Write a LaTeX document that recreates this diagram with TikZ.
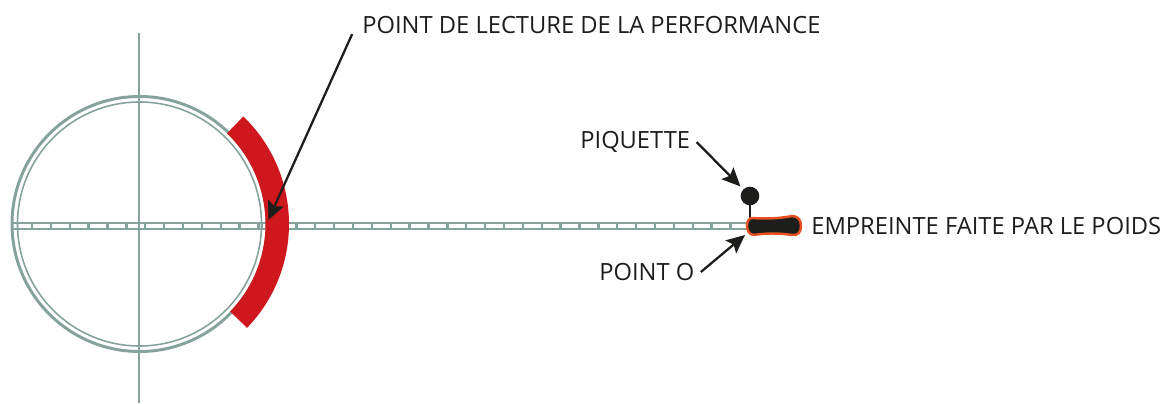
\documentclass[tikz,border=0pt]{standalone}
\usepackage{fontspec}
\setmainfont{Open Sans}
\usepackage{tikz}
\usetikzlibrary{arrows.meta,calc}
\definecolor{piste}{RGB}{134,162,156}
\definecolor{rouge}{RGB}{207,24,29}
\definecolor{encre}{RGB}{29,29,27}
\definecolor{orange}{RGB}{232,80,31}
\tikzset{
  lbl/.style={anchor=west, inner sep=0pt, text=encre, font=\fontsize{13.5}{16}\selectfont},
  fleche/.style={-{Stealth[length=10.5pt, width=9.5pt, inset=2pt]}, line width=1.3pt, draw=encre},
  axe/.style={draw=piste, line width=1.7pt},
  mesure/.style={draw=piste, line width=1.35pt},
  pic/.style={circle, fill=encre, inner sep=0pt, minimum size=10.6pt, outer sep=2.4pt}
}
\begin{document}
\begin{tikzpicture}[x=0.02cm, y=0.02cm]
  \useasboundingbox (0,0) rectangle (1161,403);
  \coordinate (centre) at (139.5,179);
  \draw[axe] (139,0) -- (139,370);
  \draw[axe] (centre) circle (127.5);
  \draw[piste, line width=0.9pt] (centre) circle (122);
  % double ligne et graduations
  \draw[mesure] (12,179.7) -- (748,179.7);
  \draw[mesure] (12,173.7) -- (748,173.7);
  \foreach \k in {0,...,37} \draw[mesure] ({32+18.88*\k},173.7) -- ({32+18.88*\k},179.7);
  \draw[mesure] (262,173.7) -- (262,179.7);
  % secteur de lecture
  \fill[rouge] ($(centre)+(46:126)$) arc[start angle=46, end angle=-44, radius=126]
    -- ($(centre)+(-44:149.5)$) arc[start angle=-44, end angle=46, radius=149.5] -- cycle;
  % piquette et empreinte
  \node[pic] (piquette) at (750,207) {};
  \coordinate (empreinte) at (750,185);
  \coordinate (pointo) at (745,168);
  \coordinate (lecture) at (268.3,183);
  \draw[encre, line width=1.1pt] (piquette.center) -- (empreinte);
  \draw[draw=orange, fill=encre, line width=1.4pt] (752,185) .. controls (765,184) and (780,184.5) .. (792,187)
    .. controls (798,187) and (801,183) .. (801,177) .. controls (801,171) and (798,167) .. (792,168)
    .. controls (780,170) and (765,170) .. (754,168) .. controls (749,168) and (747,173) .. (747,177)
    .. controls (747,182) and (749,185) .. (752,185) -- cycle;
  % textes
  \node[lbl] (lbllecture) at (362,378) {POINT DE LECTURE DE LA PERFORMANCE};
  \node[lbl] (lblpiquette) at (580,261) {PIQUETTE};
  \node[lbl] (lblpointo) at (599,131) {POINT O};
  \node[lbl] (lblempreinte) at (811,177) {EMPREINTE FAITE PAR LE POIDS};
  \draw[fleche] ([xshift=-5.6pt]lbllecture.south west) -- (lecture);
  \draw[fleche] ([xshift=3.5pt]lblpiquette.east) -- (piquette.135);
  \draw[fleche] ([xshift=3.5pt]lblpointo.east) -- (pointo);
\end{tikzpicture}
\end{document}
